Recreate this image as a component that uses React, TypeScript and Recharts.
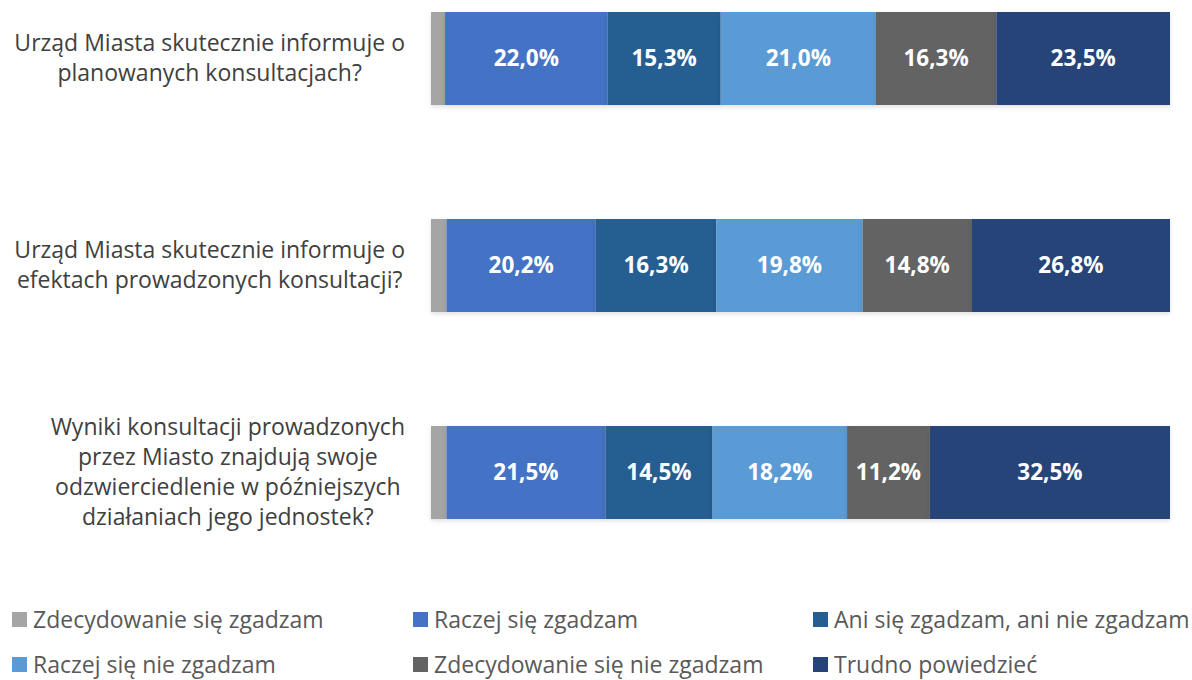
import React from 'react'
import { BarChart, Bar, XAxis, YAxis, LabelList } from 'recharts'

// categories (top to bottom), line breaks as in the picture
const categories = [
  'Urząd Miasta skutecznie informuje o\nplanowanych konsultacjach?',
  'Urząd Miasta skutecznie informuje o\nefektach prowadzonych konsultacji?',
  'Wyniki konsultacji prowadzonych\nprzez Miasto znajdują swoje\nodzwierciedlenie w późniejszych\ndziałaniach jego jednostek?',
]

const seriesNames = [
  'Zdecydowanie się zgadzam',
  'Raczej się zgadzam',
  'Ani się zgadzam, ani nie zgadzam',
  'Raczej się nie zgadzam',
  'Zdecydowanie się nie zgadzam',
  'Trudno powiedzieć',
]

const stronglyAgree = [1.9, 2.1, 2.1]
const ratherAgree = [22.0, 20.2, 21.5]
const neither = [15.3, 16.3, 14.5]
const ratherDisagree = [21.0, 19.8, 18.2]
const stronglyDisagree = [16.3, 14.8, 11.2]
const hardToSay = [23.5, 26.8, 32.5]

const colors = ['#A5A5A5', '#4472C4', '#255E91', '#5B9BD5', '#636363', '#264478']

const seriesValues = [stronglyAgree, ratherAgree, neither, ratherDisagree, stronglyDisagree, hardToSay]
const keys = ['s0', 's1', 's2', 's3', 's4', 's5']

const data = categories.map((name, i) => {
  const row: Record<string, string | number> = { name }
  seriesValues.forEach((vals, s) => {
    row[keys[s]] = vals[i]
  })
  return row
})

const fmt = (v: unknown) => `${Number(v).toFixed(1).replace('.', ',')}%`

const TICK_FONT = '23px "Open Sans", sans-serif'
let measureCtx: CanvasRenderingContext2D | null = null
const textWidth = (s: string) => {
  if (!measureCtx) measureCtx = document.createElement('canvas').getContext('2d')
  if (!measureCtx) return s.length * 11
  measureCtx.font = TICK_FONT
  return measureCtx.measureText(s).width
}

const CategoryTick = (props: any) => {
  const { y, payload } = props
  const lines = String(payload.value).split('\n')
  const lh = 30
  const startY = y - ((lines.length - 1) * lh) / 2 - 2
  // block is right-aligned at x=405, lines centred within the block
  const maxW = Math.max(...lines.map(textWidth))
  const cx = 405 - maxW / 2
  return (
    <text
      x={cx}
      y={startY}
      textAnchor='middle'
      dominantBaseline='central'
      fill='#404040'
      fontSize={23}
      fontFamily='"Open Sans", sans-serif'
    >
      {lines.map((l, i) => (
        <tspan key={i} x={cx} y={startY + i * lh} dominantBaseline='central'>
          {l}
        </tspan>
      ))}
    </text>
  )
}

const legendPos = [
  { x: 12, y: 620 },
  { x: 413, y: 620 },
  { x: 813, y: 620 },
  { x: 12, y: 665 },
  { x: 413, y: 665 },
  { x: 813, y: 665 },
]

export default function App() {
  return (
    <div
      style={{
        position: 'absolute',
        left: 0,
        top: 0,
        width: 1192,
        height: 680,
        background: '#fff',
        fontFamily: '"Open Sans", sans-serif',
      }}
    >
      <BarChart
        width={1192}
        height={680}
        data={data}
        layout='vertical'
        margin={{ top: -45, right: 22, bottom: 104, left: 0 }}
        barSize={93}
      >
        <XAxis type='number' domain={[0, 100]} hide />
        <YAxis
          type='category'
          dataKey='name'
          width={431}
          axisLine={false}
          tickLine={false}
          tick={<CategoryTick />}
          interval={0}
        />
        {keys.map((k, s) => (
          <Bar
            key={k}
            dataKey={k}
            name={seriesNames[s]}
            stackId='a'
            fill={colors[s]}
            isAnimationActive={false}
            style={{ filter: 'drop-shadow(0px 2px 2px rgba(0,0,0,0.12))' }}
          >
            {s > 0 && (
              <LabelList
                dataKey={k}
                position='center'
                formatter={fmt}
                fill='#fff'
                fontSize={22.5}
                fontWeight={700}
                fontFamily='"Open Sans", sans-serif'
              />
            )}
          </Bar>
        ))}
      </BarChart>
      {seriesNames.map((n, i) => (
        <div
          key={n}
          style={{
            position: 'absolute',
            left: legendPos[i].x,
            top: legendPos[i].y - 16,
            height: 30,
            display: 'flex',
            alignItems: 'center',
            whiteSpace: 'nowrap',
            fontSize: 23,
            color: '#595959',
          }}
        >
          <span
            style={{
              display: 'inline-block',
              width: 15,
              height: 15,
              background: colors[i],
              marginRight: 6,
            }}
          />
          {n}
        </div>
      ))}
    </div>
  )
}
